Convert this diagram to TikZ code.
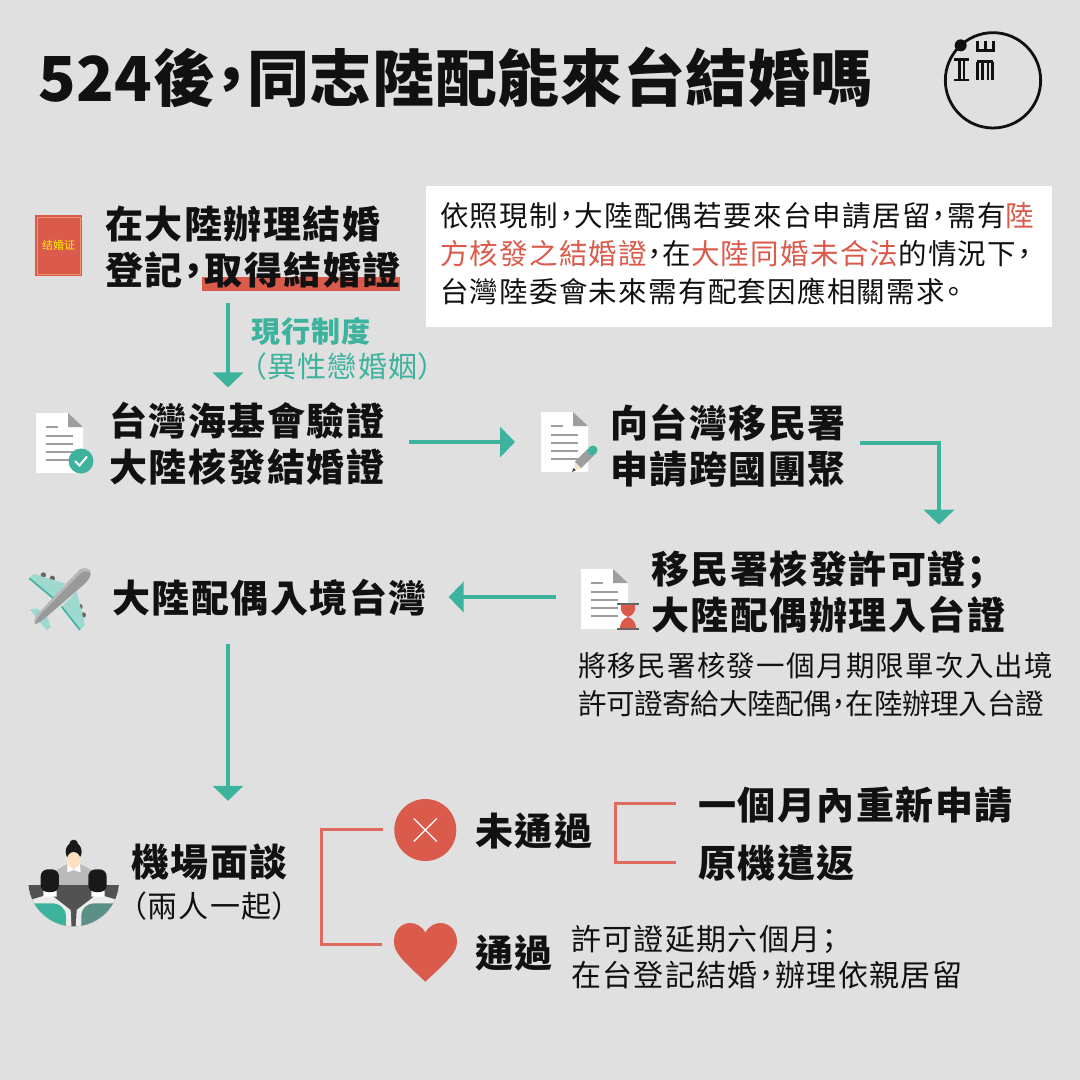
\documentclass[tikz,border=0pt]{standalone}
\usepackage{fontspec}
\usepackage{tikz}
\usetikzlibrary{positioning,arrows.meta}
\setmainfont{Noto Sans CJK TC}
\newfontfamily\titlefont[LetterSpace=1,RawFeature=+palt]{Noto Sans CJK TC Black}
\newfontfamily\headfont[LetterSpace=4,RawFeature=+palt]{Noto Sans CJK TC}
\newfontfamily\bodyfont[LetterSpace=4.5,RawFeature=+palt]{Noto Sans CJK TC}
\newfontfamily\tightfont[LetterSpace=-1,RawFeature=+palt]{Noto Sans CJK TC}
\newfontfamily\bookfont{Noto Sans CJK SC}
\definecolor{pagegray}{HTML}{E0E0E0}
\definecolor{teal}{HTML}{3DB39E}
\definecolor{accent}{HTML}{DA5B4B}
\definecolor{ink}{HTML}{111111}
\definecolor{rulegray}{HTML}{9E9E9E}
\def\headsize{\fontsize{38}{46}\selectfont}
\def\bodysize{\fontsize{28.5}{38}\selectfont}
\def\cm{^^^^ff0c}
\def\sm{^^^^ff1b}
\def\lp{^^^^ff08}
\def\rp{^^^^ff09}
\tikzstyle{flow}=[draw=teal,line width=4pt,arrows={-{Triangle[width=30pt,length=15pt]}}]
\tikzstyle{bracket}=[draw=accent!90!white,line width=3pt]
\tikzstyle{textnode}=[inner sep=0pt,outer sep=0pt,anchor=west,align=left,text=ink]
\tikzstyle{head}=[style=textnode,font=\headfont\bfseries\headsize]
\tikzstyle{body}=[style=textnode,font=\bodyfont\bodysize]
\tikzstyle{badge}=[circle,inner sep=0pt,minimum size=62pt]
\tikzstyle{docline}=[draw=rulegray,line width=1.6pt]
\def\docpage#1{\begin{scope}[shift={#1}]
    \fill[white] (0,0) -- (32,0) -- (47,14) -- (47,60) -- (0,60) -- cycle;
    \fill[rulegray] (32,0) -- (47,14) -- (32,14) -- cycle;
    \draw[docline] (10,14) -- (22,14);
    \foreach \y in {23,31,39,47} {\draw[docline] (10,\y) -- (37,\y);}
\end{scope}}
\begin{document}
\begin{tikzpicture}[x=1pt,y=-1pt]
    \fill[pagegray] (0,0) rectangle (1080,1080);
    \useasboundingbox (0,0) rectangle (1080,1080);
    \node[textnode,font=\titlefont\fontsize{62}{70}\selectfont] (title) at (38,77) {524後\cm 同志陸配能來台結婚嗎};
    \begin{scope}[shift={(920,20)},x=0.3333pt,y=-0.3333pt,line width=2.6pt,ink]
        \draw[line width=2.8pt] (219,181) circle [radius=143];
        \fill (122,76) circle [radius=18];
        \draw (102,118) -- (146,118) (102,180) -- (146,180) (118,118) -- (118,180) (132,118) -- (132,180);
        \draw (172,62) -- (172,92) -- (220,92) -- (220,62) (196,62) -- (196,92);
        \draw (170,125) -- (220,125) (172,125) -- (172,180) (188,125) -- (188,180) (204,125) -- (204,180) (218,125) -- (218,180);
    \end{scope}
    \fill[accent] (35,215) rectangle (82,276);
    \draw[accent!60!orange!70!white,line width=0.7pt] (37,217) rectangle (80,274);
    \node[inner sep=0pt,text=yellow,font=\bookfont\fontsize{11}{12}\selectfont] (book) at (58.5,245) {结婚证};
    \fill[accent] (202,277) rectangle (400,291);
    \node[head] (register) at (105,247) {在大陸辦理結婚\\登記\cm 取得結婚證};
    \node[draw=none,fill=white,inner sep=0pt,outer sep=0pt,anchor=north west,minimum width=626pt,minimum height=141pt] (notebox) at (426,186) {};
    \node[body] (notetext) at (440,254) {依照現制\cm 大陸配偶若要來台申請居留\cm 需有\textcolor{accent}{陸}\\\textcolor{accent}{方核發之結婚證}\cm 在\textcolor{accent}{大陸同婚未合法}的情況下\cm\\台灣陸委會未來需有配套因應相關需求。};
    \node[textnode,text=teal,font=\headfont\bfseries\fontsize{29}{34}\selectfont] (system) at (251,331) {現行制度};
    \node[textnode,text=teal,font=\bodyfont\fontsize{29}{34}\selectfont] (hetero) at (251.5,366) {\lp 異性戀婚姻\rp};
    \docpage{(36,413)}
    \node[badge,minimum size=25pt,fill=teal] (checkmark) at (81,461) {};
    \draw[white,line width=2pt] ([shift={(-6,0)}]checkmark.center) -- ([shift={(-1.5,4.5)}]checkmark.center) -- ([shift={(6,-4.5)}]checkmark.center);
    \node[head] (verify) at (109,444) {台灣海基會驗證\\大陸核發結婚證};
    \docpage{(541,412)}
    \draw[line width=9pt,rulegray] (591,452) -- (578,465);
    \draw[line width=9pt,teal,line cap=round] (593,450) -- (592,451);
    \fill[black!10!orange!20!white] (574.8,461.8) -- (581.2,468.2) -- (574,471) -- cycle;
    \fill[black!70] (573.2,468) -- (576,470.2) -- (572,472) -- cycle;
    \node[head] (apply) at (610,446) {向台灣移民署\\申請跨國團聚};
    \docpage{(581,569)}
    \draw[line width=2pt,black!60] (617,604) -- (639,604) (617,629) -- (639,629);
    \fill[accent] (621,605) -- (635,605) .. controls (636,612) and (633,615) .. (628,617) .. controls (634,619) and (636,624) .. (636,628) -- (620,628) .. controls (620,624) and (622,619) .. (628,617) .. controls (623,615) and (620,612) .. (621,605) -- cycle;
    \node[head] (permit) at (651,592) {移民署核發許可證\sm\\大陸配偶辦理入台證};
    \node[body] (permitnote) at (578,685) {將移民署核發一個月期限單次入出境\\{\tightfont 許可證寄給大陸配偶\cm 在陸辦理入台證}};
    \begin{scope}[shift={(10,550)},x=0.3333pt,y=-0.3333pt]
        \fill[black!60] (100,75) circle [radius=8] (127,85) circle [radius=8] (210,170) circle [radius=8] (220,195) circle [radius=8];
        \fill[teal!50!white] (58,85) -- (70,72) -- (165,100) -- (130,145) -- cycle;
        \fill[teal!50!white] (155,170) -- (200,125) -- (225,225) -- (210,240) -- cycle;
        \fill[teal!50!white] (60,178) -- (80,175) -- (110,195) -- (122,232) -- (110,240) -- (88,215) -- cycle;
        \draw[teal,line width=1.6pt] (58,85) -- (130,145) (155,170) -- (210,240);
        \fill[black!40] (210,58) .. controls (225,52) and (243,56) .. (242,72) .. controls (240,85) and (230,95) .. (220,105) -- (110,200) .. controls (95,213) and (85,220) .. (75,222) .. controls (70,210) and (80,195) .. (90,185) -- cycle;
        \fill[black!28] (210,58) .. controls (225,52) and (243,56) .. (242,68) .. controls (225,60) and (215,66) .. (205,76) -- (90,195) .. controls (82,205) and (76,214) .. (75,222) .. controls (70,210) and (80,195) .. (90,185) -- cycle;
    \end{scope}
    \node[head] (entry) at (112,598) {大陸配偶入境台灣};
    \begin{scope}[shift={(10,820)},x=0.3333pt,y=-0.3333pt]
        \fill[black!27] (140,195) -- (140,150) -- (172,132) -- (210,132) -- (245,150) -- (245,195) -- cycle;
        \fill[black!90] (191,95) ellipse [x radius=24,y radius=28] (191,72) circle [radius=13];
        \fill[orange!25!white] (191,122) ellipse [x radius=21,y radius=26];
        \fill[black!90] (168,100) .. controls (175,85) and (205,85) .. (214,100) .. controls (205,92) and (180,92) .. (168,100) -- cycle;
        \fill[white] (172,132) -- (191,150) -- (210,132) -- (212,157) -- (191,150) -- (172,157) -- cycle;
        \clip (191,183) circle [radius=136];
        \fill[black!68] (50,195) rectangle (332,330);
        \fill[blue!5!black!8] (60,240) -- (120,222) -- (182,270) -- (185,330) -- (60,330) -- cycle;
        \fill[blue!5!black!8] (322,240) -- (262,222) -- (200,270) -- (197,330) -- (322,330) -- cycle;
        \fill[teal] (60,250) -- (125,250) .. controls (150,250) and (168,265) .. (168,290) -- (168,330) -- (60,330) -- cycle;
        \fill[teal!60!black!75] (322,250) -- (255,250) .. controls (230,250) and (214,265) .. (214,290) -- (214,330) -- (322,330) -- cycle;
        \fill[white] (100,212) -- (140,212) -- (140,230) -- (100,230) -- cycle (244,212) -- (284,212) -- (284,230) -- (244,230) -- cycle;
        \fill[black!90,rounded corners=7pt] (92,148) rectangle (147,216) (235,148) rectangle (290,216);
    \end{scope}
    \node[head] (interview) at (131,862) {機場面談};
    \node[textnode,font=\bodyfont\fontsize{30}{34}\selectfont] (together) at (131,906) {\lp 兩人一起\rp};
    \node[badge,fill=accent] (failmark) at (425.3,830) {};
    \draw[white,line width=1.3pt] ([shift={(-11.5,-11.5)}]failmark.center) -- ([shift={(11.5,11.5)}]failmark.center) ([shift={(-11.5,11.5)}]failmark.center) -- ([shift={(11.5,-11.5)}]failmark.center);
    \node[badge,minimum size=64pt] (passmark) at (425.3,945) {};
    \begin{scope}[shift={(310,780)},x=0.3333pt,y=-0.3333pt]
        \fill[accent] (346,458) .. controls (335,437) and (315,428) .. (298,429) .. controls (270,431) and (252,455) .. (252,485) .. controls (252,515) and (270,535) .. (346,605) .. controls (422,535) and (441,515) .. (441,485) .. controls (441,455) and (422,431) .. (394,429) .. controls (377,428) and (357,437) .. (346,458) -- cycle;
    \end{scope}
    \node[head] (fail) at (475,831) {未通過};
    \node[head] (pass) at (475,953) {通過};
    \node[head] (retry) at (698,805) {一個月內重新申請};
    \node[head] (back) at (698,863) {原機遣返};
    \node[textnode,font=\bodyfont\fontsize{30}{36}\selectfont] (passnote) at (571,957) {許可證延期六個月\sm\\在台登記結婚\cm 辦理依親居留};
    \draw[flow,shorten <=15pt,shorten >=15pt] (register.south -| 228,0) -- (verify.north -| 228,0);
    \draw[flow,shorten <=25pt,shorten >=95pt] (verify.east |- 0,442) -- (apply.west |- 0,442);
    \draw[flow,shorten <=14pt,shorten >=26pt] (apply.east |- 0,443) -- (939,443) -- (permit.north -| 939,0);
    \draw[flow,shorten <=95pt,shorten >=22pt] (permit.west |- 0,597) -- (entry.east |- 0,597);
    \draw[flow,shorten <=27pt,shorten >=43pt] (entry.south -| 228,0) -- (interview.north -| 228,0);
    \draw[bracket,shorten <=11pt,shorten >=11pt] (failmark.west |- 0,829) -- ++(-73,0) |- (passmark.west |- 0,944);
    \draw[bracket,shorten <=22pt,shorten >=22pt] (retry.west |- 0,803) -- ++(-83,0) |- (back.west |- 0,862);
\end{tikzpicture}
\end{document}
